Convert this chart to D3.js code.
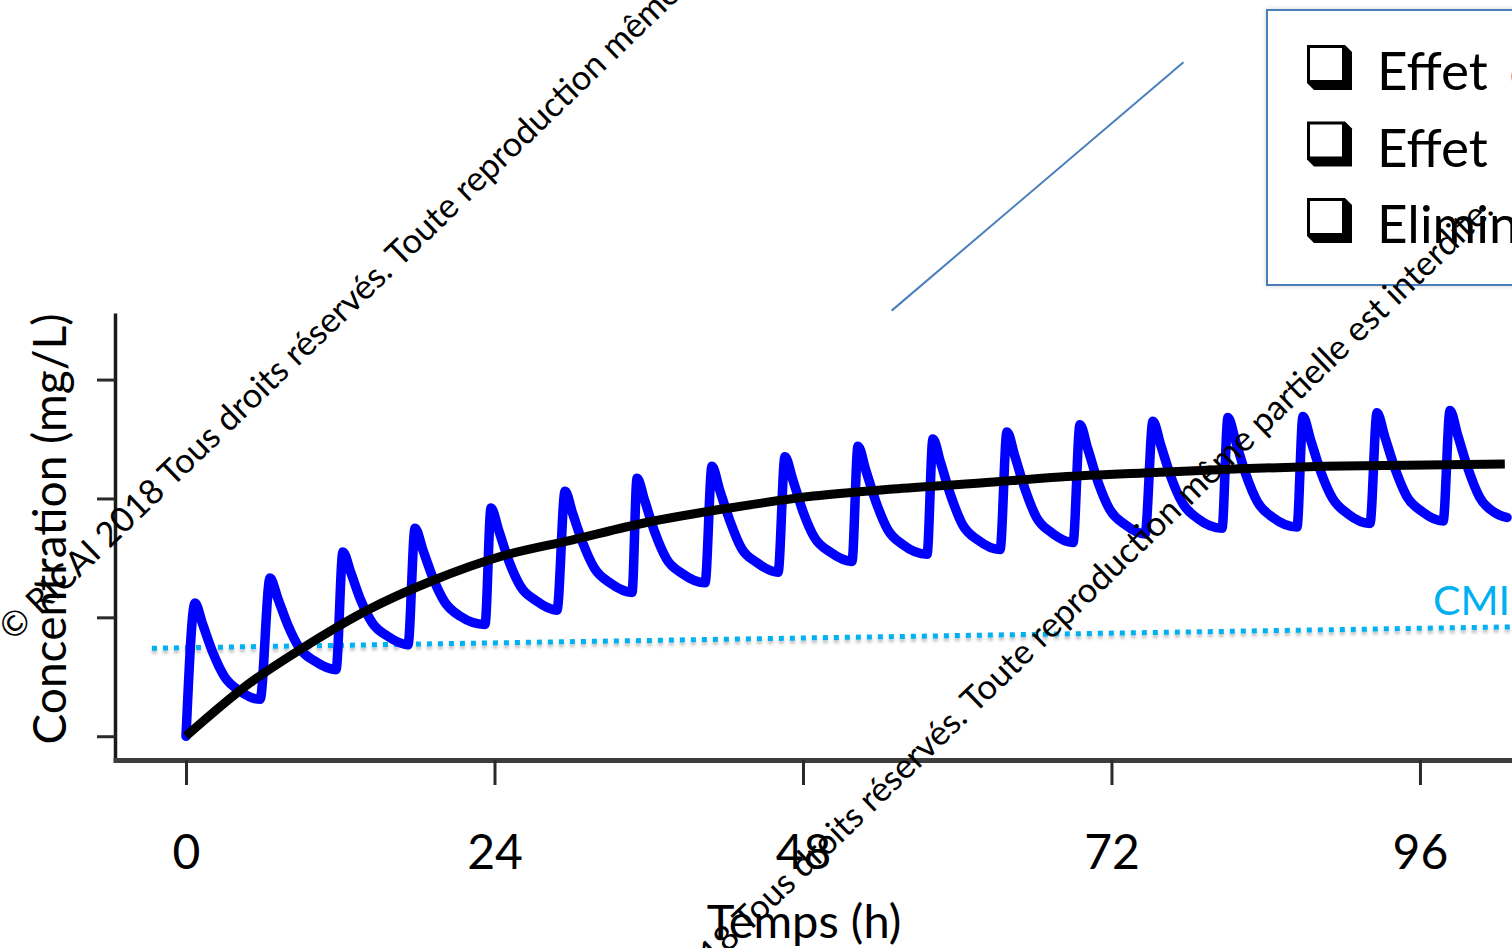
<!DOCTYPE html>
<html>
<head>
<meta charset="utf-8">
<script src="https://cdn.jsdelivr.net/npm/d3@7"></script>
<style>
  html, body { margin: 0; padding: 0; background: #fff; overflow: hidden; }
  svg { display: block; }
  text { font-family: Lato, "Open Sans", "Noto Sans", sans-serif; }
</style>
</head>
<body>
<svg id="chart" width="1512" height="948"></svg>
<script>
// ---- data -------------------------------------------------------------
// Axis ticks: time (h) and concentration (mg/L, unlabelled)
const timeTicks = [0, 24, 48, 72, 96];
const concTicks = [0, 1, 2, 3];

// Repeated dosing profile, [time h, concentration mg/L]:
// each row = trough/rise, peak, then the decay after the dose
const repeatedDosing = [
  [0.00, 0.00], [0.70, 1.12], [1.30, 0.94], [2.10, 0.70], [3.00, 0.50], [4.20, 0.38],
  [5.76, 0.31], [6.54, 1.33], [7.14, 1.16], [7.94, 0.93], [8.84, 0.74], [10.04, 0.63],
  [11.67, 0.56], [12.21, 1.55], [12.81, 1.38], [13.61, 1.14], [14.51, 0.95], [15.71, 0.84],
  [17.27, 0.77], [17.82, 1.75], [18.42, 1.57], [19.22, 1.33], [20.12, 1.13], [21.32, 1.01],
  [23.26, 0.94], [23.73, 1.92], [24.33, 1.73], [25.13, 1.47], [26.03, 1.26], [27.23, 1.14],
  [28.86, 1.06], [29.49, 2.06], [30.09, 1.87], [30.89, 1.62], [31.79, 1.41], [32.99, 1.29],
  [34.70, 1.21], [35.09, 2.17], [35.69, 1.98], [36.49, 1.71], [37.39, 1.49], [38.59, 1.37],
  [40.38, 1.29], [40.92, 2.27], [41.52, 2.07], [42.32, 1.81], [43.22, 1.58], [44.42, 1.46],
  [46.06, 1.38], [46.60, 2.35], [47.20, 2.16], [48.00, 1.89], [48.90, 1.67], [50.10, 1.55],
  [51.81, 1.47], [52.28, 2.44], [52.88, 2.24], [53.68, 1.97], [54.58, 1.74], [55.78, 1.61],
  [57.65, 1.53], [58.11, 2.50], [58.71, 2.30], [59.51, 2.02], [60.41, 1.78], [61.61, 1.65],
  [63.33, 1.57], [63.87, 2.56], [64.47, 2.36], [65.27, 2.08], [66.17, 1.84], [67.37, 1.71],
  [69.01, 1.63], [69.55, 2.62], [70.15, 2.42], [70.95, 2.14], [71.85, 1.91], [73.05, 1.78],
  [74.61, 1.70], [75.23, 2.65], [75.83, 2.45], [76.63, 2.18], [77.53, 1.96], [78.73, 1.83],
  [80.60, 1.75], [81.06, 2.68], [81.66, 2.48], [82.46, 2.20], [83.36, 1.97], [84.56, 1.84],
  [86.43, 1.76], [86.90, 2.69], [87.50, 2.49], [88.30, 2.22], [89.20, 2.00], [90.40, 1.87],
  [92.11, 1.79], [92.66, 2.72], [93.26, 2.52], [94.06, 2.25], [94.96, 2.02], [96.16, 1.89],
  [97.80, 1.81], [98.34, 2.74], [98.94, 2.53], [99.74, 2.25], [100.64, 2.01], [101.84, 1.88],
  [102.77, 1.84]
];

// Continuous administration: accumulation towards the plateau
const accumTime = [0, 5.0, 8.9, 14.1, 19.2, 24.4, 30.0, 35.9, 42.3, 48.8, 55.0, 61.8, 68.0, 75.8, 82.0, 88.5, 95.0, 102.6];
const accumConc = [0, 0.45, 0.73, 1.06, 1.31, 1.51, 1.65, 1.80, 1.92, 2.02, 2.08, 2.13, 2.18, 2.22, 2.25, 2.27, 2.28, 2.29];

// CMI threshold line (start / end)
const cmiTime = [-2.65, 103.16];
const cmiConc = [0.74, 0.92];

// Pointer line towards the legend, in data units
const pointerTime = [54.9, 77.6];
const pointerConc = [3.58, 5.67];

// Legend entries
const legendLabels = ["Effet", "Effet", "Elimination"];
const legendSuffix = ["concentration-dépendant", "", ""];

const watermarkText = "© RICAI 2018 Tous droits réservés. Toute reproduction même partielle est interdite.";

// ---- scales -----------------------------------------------------------
const svg = d3.select("#chart");
const x = d3.scaleLinear().domain([-5.68, 103.16]).range([113, 1512]);
const y = d3.scaleLinear().domain([-0.2, 3.56]).range([760, 313]);

const defs = svg.append("defs");
const sh = defs.append("filter").attr("id", "softShadow")
  .attr("x", "-5%").attr("y", "-50%").attr("width", "110%").attr("height", "200%");
sh.append("feDropShadow").attr("dx", 0).attr("dy", 3).attr("stdDeviation", 1.5)
  .attr("flood-color", "#000").attr("flood-opacity", 0.25);
const boxSh = defs.append("filter").attr("id", "boxShadow")
  .attr("x", "-10%").attr("y", "-10%").attr("width", "120%").attr("height", "120%");
boxSh.append("feDropShadow").attr("dx", 0).attr("dy", 0).attr("stdDeviation", 2.5)
  .attr("flood-color", "#000").attr("flood-opacity", 0.18);

// ---- axes -------------------------------------------------------------
const yAxis = d3.axisLeft(y).tickValues(concTicks).tickFormat("").tickSize(18).tickSizeOuter(0);
const gy = svg.append("g").attr("transform", "translate(115,0)").call(yAxis);
gy.select(".domain").attr("stroke", "#1a1a1a").attr("stroke-width", 3.5);
gy.selectAll(".tick line").attr("stroke", "#2a2a2a").attr("stroke-width", 3);

const xAxis = d3.axisBottom(x).tickValues(timeTicks).tickSize(25).tickSizeOuter(0).tickPadding(50);
const gx = svg.append("g").attr("transform", "translate(0,760)").call(xAxis);
gx.select(".domain").attr("stroke", "#3d3d3d").attr("stroke-width", 5);
gx.selectAll(".tick line").attr("stroke", "#2a2a2a").attr("stroke-width", 3);
gx.selectAll(".tick text")
  .attr("font-family", "Lato, 'Open Sans', sans-serif")
  .attr("font-size", 48).attr("fill", "#000");

svg.append("text")
  .attr("x", 804).attr("y", 938)
  .attr("text-anchor", "middle")
  .attr("font-size", 47)
  .text("Temps (h)");

svg.append("text")
  .attr("transform", "translate(66,529) rotate(-90)")
  .attr("text-anchor", "middle")
  .attr("font-size", 46)
  .text("Concentration (mg/L)");

// ---- series -----------------------------------------------------------
const line = d3.line().x(d => x(d[0])).y(d => y(d[1]));
const smooth = d3.line().x(d => x(d[0])).y(d => y(d[1])).curve(d3.curveMonotoneX);

// CMI dotted threshold
svg.append("path")
  .datum(d3.zip(cmiTime, cmiConc))
  .attr("d", line)
  .attr("fill", "none")
  .attr("stroke", "#00b0f0")
  .attr("stroke-width", 5)
  .attr("stroke-dasharray", "5 6")
  .attr("filter", "url(#softShadow)");

svg.append("text")
  .attr("x", x(cmiTime[1]) - 2)
  .attr("y", y(cmiConc[1]) - 12)
  .attr("text-anchor", "end")
  .attr("font-size", 41)
  .attr("fill", "#00b0f0")
  .text("CMI");

// Repeated doses (sawtooth)
svg.append("path")
  .datum(repeatedDosing)
  .attr("d", smooth)
  .attr("fill", "none")
  .attr("stroke", "#0000ff")
  .attr("stroke-width", 9.5)
  .attr("stroke-linejoin", "round")
  .attr("stroke-linecap", "round");

// Accumulation curve
svg.append("path")
  .datum(d3.zip(accumTime, accumConc))
  .attr("d", smooth)
  .attr("fill", "none")
  .attr("stroke", "#000")
  .attr("stroke-width", 9);

// ---- legend -----------------------------------------------------------
const leg = svg.append("g").attr("transform", "translate(1267,10)");
leg.append("rect")
  .attr("width", 280).attr("height", 275)
  .attr("fill", "#fff")
  .attr("stroke", "#4a7ebb").attr("stroke-width", 2)
  .attr("filter", "url(#boxShadow)");

const rows = leg.selectAll("g.item").data(legendLabels).join("g")
  .attr("class", "item")
  .attr("transform", (d, i) => `translate(40,${35 + i * 76.5})`);
// shadowed check box
rows.append("path")
  .attr("d", "M0,0 H38 L45,7 V45 H7 L0,38 Z")
  .attr("fill", "#000");
rows.append("rect")
  .attr("x", 3).attr("y", 3).attr("width", 32).attr("height", 32)
  .attr("fill", "#fff");
const labels = rows.append("text")
  .attr("x", 70).attr("y", 45)
  .attr("font-size", 53)
  .attr("fill", "#000");
labels.append("tspan").text(d => d);
labels.append("tspan")
  .attr("dx", 8)
  .attr("fill", "#e8412c")
  .text((d, i) => legendSuffix[i] ? " " + legendSuffix[i] : "");

// Pointer line
svg.append("path")
  .datum(d3.zip(pointerTime, pointerConc))
  .attr("d", line)
  .attr("stroke", "#4a7ebb")
  .attr("stroke-width", 2)
  .attr("fill", "none");

// ---- copyright overlay ------------------------------------------------
const wm = svg.append("g");
[[13, 642], [588, 1088]].forEach(p => {
  wm.append("text")
    .attr("transform", `translate(${p[0]},${p[1]}) rotate(-44)`)
    .attr("font-size", 34.5)
    .attr("fill", "#000")
    .text(watermarkText);
});
</script>
</body>
</html>
